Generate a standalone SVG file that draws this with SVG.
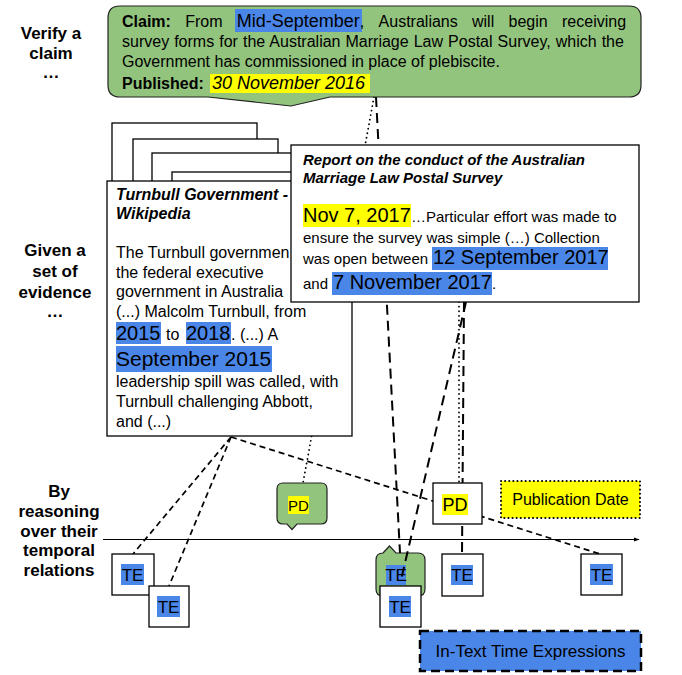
<svg xmlns="http://www.w3.org/2000/svg" width="682" height="675" viewBox="0 0 682 675">
<defs>
<marker id="arr" viewBox="0 0 10 10" refX="9" refY="5" markerWidth="6" markerHeight="6" orient="auto" markerUnits="userSpaceOnUse"><path d="M0,1.5 L10,5 L0,8.5 Z" fill="#000"/></marker>
</defs>
<style>
text{font-family:"Liberation Sans",Arial,sans-serif;fill:#000}
.lab{font-size:17px;font-weight:bold;text-anchor:middle}
.t16{font-size:16px}
.t15{font-size:15px}
.box{fill:#fff;stroke:#000;stroke-width:1.3}
.grn{fill:#93c47d;stroke:#222;stroke-width:1.2}
.hb{fill:#4a86e8}
.hy{fill:#ffff00}
.te{font-size:17px;text-anchor:middle}
.dot{fill:none;stroke:#000;stroke-width:1.8;stroke-dasharray:0.1 4.5;stroke-linecap:round}
.dsh{fill:none;stroke:#000;stroke-width:1.7;stroke-dasharray:6 4}
.lng{fill:none;stroke:#000;stroke-width:2;stroke-dasharray:10 6}
</style>
<rect width="682" height="675" fill="#fff"/>

<g id="labels">
<text class="lab" x="51" y="39">Verify a</text>
<text class="lab" x="51" y="59">claim</text>
<text class="lab" x="51" y="78">…</text>
<text class="lab" x="55" y="256">Given a</text>
<text class="lab" x="55" y="277">set of</text>
<text class="lab" x="55" y="298">evidence</text>
<text class="lab" x="55" y="317">…</text>
<text class="lab" x="59" y="497">By</text>
<text class="lab" x="59" y="517">reasoning</text>
<text class="lab" x="59" y="537">over their</text>
<text class="lab" x="59" y="556">temporal</text>
<text class="lab" x="59" y="576">relations</text>
</g>

<g id="te-green">
<path class="grn" d="M383,553 L389.5,546 L396,553 H418 Q425,553 425,560 V589 Q425,596 418,596 H383 Q376,596 376,589 V560 Q376,553 383,553 Z"/>
<rect class="hb" x="386" y="565" width="20" height="20"/>
<text class="te" x="396" y="581" font-size="16">TE</text>
</g>

<g id="axis">
<line x1="103" y1="539.5" x2="639" y2="539.5" stroke="#000" stroke-width="1.2" marker-end="url(#arr)"/>
</g>

<g id="connectors">
<line class="dot" x1="374" y1="97" x2="303" y2="483"/>
<line class="lng" x1="376" y1="97" x2="400" y2="553"/>
<line class="dsh" x1="231" y1="437" x2="133" y2="554"/>
<line class="dsh" x1="231" y1="437" x2="169" y2="586"/>
<line class="dsh" x1="231" y1="437" x2="600" y2="554"/>
<line class="lng" x1="466" y1="302" x2="401" y2="580"/>
<line class="dot" x1="459" y1="302" x2="459" y2="483"/>
<line class="lng" x1="464" y1="302" x2="462" y2="554"/>
</g>

<g id="wiki-stack">
<rect class="box" x="112" y="123" width="145" height="230"/>
<rect class="box" x="133" y="139" width="145" height="230"/>
<rect class="box" x="152" y="153" width="145" height="230"/>
<rect class="box" x="172" y="172" width="145" height="230"/>
</g>

<g id="wiki">
<rect class="box" x="107" y="181" width="245" height="255"/>
<text class="t16" x="116" y="200" font-weight="bold" font-style="italic">Turnbull Government -</text>
<text class="t16" x="116" y="219" font-weight="bold" font-style="italic">Wikipedia</text>
<text class="t16" x="116" y="258">The Turnbull governmen</text>
<text class="t16" x="116" y="278">the federal executive</text>
<text class="t16" x="116" y="297">government in Australia</text>
<text class="t16" x="116" y="317">(...) Malcolm Turnbull, from</text>
<rect class="hb" x="116" y="322" width="45" height="22"/>
<rect class="hb" x="186" y="322" width="45" height="22"/>
<text class="t16" y="340"><tspan x="116" font-size="20">2015</tspan><tspan x="166">to</tspan><tspan x="186" font-size="20">2018</tspan><tspan x="231">. (...) A</tspan></text>
<rect class="hb" x="116" y="346" width="156" height="26"/>
<text x="116" y="366" font-size="21">September 2015</text>
<text class="t16" x="116" y="387">leadership spill was called, with</text>
<text class="t16" x="116" y="407">Turnbull challenging Abbott,</text>
<text class="t16" x="116" y="427">and (...)</text>
</g>

<g id="report">
<rect class="box" x="291" y="145" width="348" height="157"/>
<text class="t15" x="303" y="165" font-weight="bold" font-style="italic">Report on the conduct of the Australian</text>
<text class="t15" x="303" y="183" font-weight="bold" font-style="italic">Marriage Law Postal Survey</text>
<rect class="hy" x="303" y="204" width="108" height="23"/>
<text class="t15" x="303" y="222"><tspan font-size="20">Nov 7, 2017</tspan><tspan x="411">…Particular effort was made to</tspan></text>
<text class="t15" x="303" y="243">ensure the survey was simple (…) Collection</text>
<rect class="hb" x="432" y="247" width="176" height="23"/>
<text class="t15" x="303" y="264">was open between <tspan x="433" font-size="20">12 September 2017</tspan></text>
<rect class="hb" x="332" y="272" width="160" height="23"/>
<text class="t15" x="303" y="289">and <tspan x="333" font-size="20">7 November 2017</tspan><tspan x="492">.</tspan></text>
</g>

<g id="claim">
<path class="grn" d="M120,6 H629 Q641,6 641,18 V85 Q641,97 629,97 H330 L291,106 L208,97 H120 Q108,97 108,85 V18 Q108,6 120,6 Z"/>
<rect class="hb" x="235" y="9" width="127" height="23"/>
<text class="t16" y="27"><tspan x="122" font-weight="bold">Claim:</tspan><tspan x="185.2">From</tspan><tspan x="236.8" font-size="18">Mid-September</tspan><tspan x="359.8">,</tspan><tspan x="378.6">Australians</tspan><tspan x="472">will</tspan><tspan x="508.5">begin</tspan><tspan x="562">receiving</tspan></text>
<text class="t16" x="122" y="47" word-spacing="0.6">survey forms for the Australian Marriage Law Postal Survey, which the</text>
<text class="t16" x="122" y="67">Government has commissioned in place of plebiscite.</text>
<rect class="hy" x="210" y="74" width="160" height="19"/>
<text class="t16" x="122" y="89"><tspan font-weight="bold">Published:</tspan><tspan x="212" font-size="18" font-style="italic">30 November 2016</tspan></text>
</g>

<g id="pd-green">
<path class="grn" d="M283,483 H321 Q327,483 327,489 V518 Q327,524 321,524 H297 L292,529.5 L287,524 H283 Q277,524 277,518 V489 Q277,483 283,483 Z"/>
<rect class="hy" x="288" y="496" width="21" height="18"/>
<text x="298.5" y="510.5" font-size="15" text-anchor="middle">PD</text>
</g>

<g id="pd-white">
<rect class="box" x="433" y="483" width="49" height="41"/>
<rect class="hy" x="442" y="494" width="26" height="21"/>
<text x="455" y="511" font-size="18" text-anchor="middle">PD</text>
</g>

<g id="te1">
<rect class="box" x="112" y="554" width="42" height="41"/>
<rect class="hb" x="121" y="564" width="23" height="21"/>
<text class="te" x="132.5" y="581">TE</text>
</g>
<g id="te2">
<rect class="box" x="149" y="586" width="40" height="41"/>
<rect class="hb" x="157" y="596" width="23" height="21"/>
<text class="te" x="168.5" y="613">TE</text>
</g>
<g id="te3">
<rect class="box" x="380" y="586" width="41" height="41"/>
<rect class="hb" x="389" y="596" width="22" height="21"/>
<text class="te" x="400" y="613">TE</text>
</g>
<g id="te4">
<rect class="box" x="442" y="554" width="41" height="42"/>
<rect class="hb" x="451" y="565" width="22" height="20"/>
<text class="te" x="462" y="581">TE</text>
</g>
<g id="te5">
<rect class="box" x="581" y="554" width="41" height="41"/>
<rect class="hb" x="590" y="564" width="23" height="21"/>
<text class="te" x="601.5" y="581">TE</text>
</g>

<g id="legend-pd">
<rect x="501" y="481" width="139" height="37" fill="#ffff00" stroke="#000" stroke-width="2" stroke-dasharray="0.1 4" stroke-linecap="round"/>
<text x="570.5" y="505" font-size="16" text-anchor="middle">Publication Date</text>
</g>

<g id="legend-te">
<rect x="420" y="631" width="221" height="40" fill="#4a86e8" stroke="#000" stroke-width="2.5" stroke-dasharray="9 5"/>
<text x="530.5" y="657" font-size="17" text-anchor="middle">In-Text Time Expressions</text>
</g>
</svg>
